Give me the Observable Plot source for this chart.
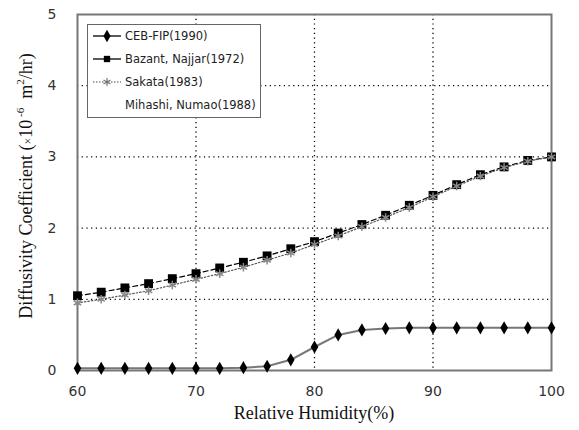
<!DOCTYPE html>
<html><head><meta charset="utf-8">
<script src="https://cdn.jsdelivr.net/npm/d3@7"></script>
<script src="https://cdn.jsdelivr.net/npm/@observablehq/plot@0.6"></script>
<style>
body{margin:0;background:#fff;}
#wrap{position:relative;width:579px;height:430px;}
#legend{position:absolute;left:87px;top:24px;width:174px;height:94px;border:1.5px solid #666;background:#fff;box-sizing:border-box;font:11.5px "DejaVu Sans",sans-serif;color:#222;}
#legend .row{position:absolute;left:4px;height:16px;display:flex;align-items:center;white-space:nowrap;}
#legend svg{margin-right:3px;flex:none;}
</style></head>
<body><div id="wrap"><div id="legend"></div></div>
<script>
const humidity = [60,62,64,66,68,70,72,74,76,78,80,82,84,86,88,90,92,94,96,98,100];
const cebFip  = [0.03,0.03,0.03,0.03,0.03,0.03,0.03,0.04,0.06,0.15,0.33,0.50,0.57,0.59,0.60,0.60,0.60,0.60,0.60,0.60,0.60];
const bazant  = [1.05,1.10,1.16,1.22,1.29,1.36,1.44,1.52,1.61,1.71,1.81,1.93,2.05,2.18,2.32,2.46,2.61,2.75,2.86,2.95,3.00];
const sakata  = [0.95,1.00,1.06,1.12,1.20,1.28,1.36,1.45,1.55,1.65,1.77,1.89,2.02,2.15,2.29,2.44,2.59,2.73,2.85,2.94,3.00];
const mihashi = [1.00,1.05,1.11,1.17,1.24,1.32,1.40,1.49,1.58,1.68,1.79,1.91,2.03,2.16,2.30,2.45,2.60,2.74,2.86,2.95,3.00];
const seriesNames = ["CEB-FIP(1990)","Bazant, Najjar(1972)","Sakata(1983)","Mihashi, Numao(1988)"];
const xTicks = [60,70,80,90,100];
const yTicks = [0,1,2,3,4,5];

const rows = (vals, name) => humidity.map((h,i)=>({h, v: vals[i], name}));
const dCeb = rows(cebFip, seriesNames[0]);
const dBaz = rows(bazant, seriesNames[1]);
const dSak = rows(sakata, seriesNames[2]);
const dMih = rows(mihashi, seriesNames[3]);

const font = '"DejaVu Sans", sans-serif';
const fmt = d => String(d);
const chart = Plot.plot({
  width: 579, height: 430,
  marginLeft: 77, marginRight: 28, marginTop: 14, marginBottom: 60,
  style: {fontFamily: font, fontSize: "13px", color: "#333", background: "#fff"},
  x: {domain: [60,100], label: null},
  y: {domain: [0,5], label: null},
  marks: [
    Plot.gridX(xTicks.filter(t=>t>60&&t<100), {stroke: "#000", strokeOpacity: 1, strokeDasharray: "1.2,3.5", strokeWidth: 1.3}),
    Plot.gridY(yTicks.filter(t=>t>0&&t<5), {stroke: "#000", strokeOpacity: 1, strokeDasharray: "1.2,3.5", strokeWidth: 1.3}),
    Plot.frame({stroke: "#777", strokeWidth: 2}),
    Plot.axisX({ticks: xTicks, tickFormat: fmt, tickSize: 0, tickPadding: 16, fontSize: 14, fill: "#333", label: null}),
    Plot.axisY({ticks: yTicks, tickFormat: fmt, tickSize: 0, tickPadding: 21, fontSize: 14, fill: "#333", label: null}),
    // Mihashi (white)
    Plot.line(dMih, {x: "h", y: "v", stroke: "#fff", strokeWidth: 1}),
    Plot.dot(dMih, {x: "h", y: "v", symbol: "triangle", fill: "#fff", r: 3.5}),
    // Bazant
    Plot.line(dBaz, {x: "h", y: "v", stroke: "#000", strokeWidth: 1.2, strokeDasharray: "5,3"}),
    Plot.dot(dBaz, {x: "h", y: "v", symbol: "square", fill: "#000", r: 5}),
    // Sakata
    Plot.line(dSak, {x: "h", y: "v", stroke: "#555", strokeWidth: 1.2, strokeDasharray: "1.5,2"}),
    Plot.dot(dSak, {x: "h", y: "v", symbol: "asterisk", stroke: "#888", strokeWidth: 1.5, r: 4}),
    // CEB-FIP
    Plot.line(dCeb, {x: "h", y: "v", stroke: "#777", strokeWidth: 2}),
    Plot.dot(dCeb, {x: "h", y: "v", symbol: "diamond", fill: "#000", r: 4})
  ]
});
const wrap = document.getElementById("wrap");
wrap.insertBefore(chart, wrap.firstChild);

// axis titles (serif)
const svg = d3.select(chart);
const serif = '"Liberation Serif", "DejaVu Serif", serif';
svg.append("text")
  .attr("x", 314).attr("y", 419).attr("text-anchor", "middle")
  .attr("font-family", serif).attr("font-size", 18).attr("fill", "#111")
  .text("Relative Humidity(%)");
const yl = svg.append("text")
  .attr("transform", "translate(32,186) rotate(-90)").attr("text-anchor", "middle")
  .attr("font-family", serif).attr("font-size", 18).attr("fill", "#111");
yl.append("tspan").text("Diffusivity Coefficient (");
yl.append("tspan").attr("font-size", 12).text("×");
yl.append("tspan").text("10");
yl.append("tspan").attr("font-size", 11).attr("dy", -8).text(" -6");
yl.append("tspan").attr("dy", 8).text("  m");
yl.append("tspan").attr("font-size", 11).attr("dy", -8).text("2");
yl.append("tspan").attr("dy", 8).text("/hr)");

// legend
const legend = d3.select("#legend");
const legendStyles = [
  {stroke:"#000", dash:null, sym:"diamond", fill:"#000"},
  {stroke:"#000", dash:null, sym:"square", fill:"#000"},
  {stroke:"#888", dash:"1.5,1.5", sym:"asterisk", fill:"none"},
  {stroke:"#fff", dash:null, sym:null, fill:"#fff"}
];
seriesNames.forEach((name, i) => {
  const row = legend.append("div").attr("class","row").style("top", (3 + i*23) + "px");
  const s = row.append("svg").attr("width", 30).attr("height", 14);
  const st = legendStyles[i];
  s.append("line").attr("x1",1).attr("x2",29).attr("y1",7).attr("y2",7).attr("stroke",st.stroke).attr("stroke-width",1.3).attr("stroke-dasharray", st.dash);
  if (st.sym) {
    const sym = d3.symbol(st.sym === "diamond" ? d3.symbolDiamond : st.sym === "square" ? d3.symbolSquare : d3.symbolAsterisk, st.sym==="square"?40:45)();
    s.append("path").attr("d", sym).attr("transform","translate(15,7)")
      .attr("fill", st.fill).attr("stroke", st.sym==="asterisk" ? "#777" : "none").attr("stroke-width",1.2);
  }
  row.append("span").text(name);
});
</script></body></html>
